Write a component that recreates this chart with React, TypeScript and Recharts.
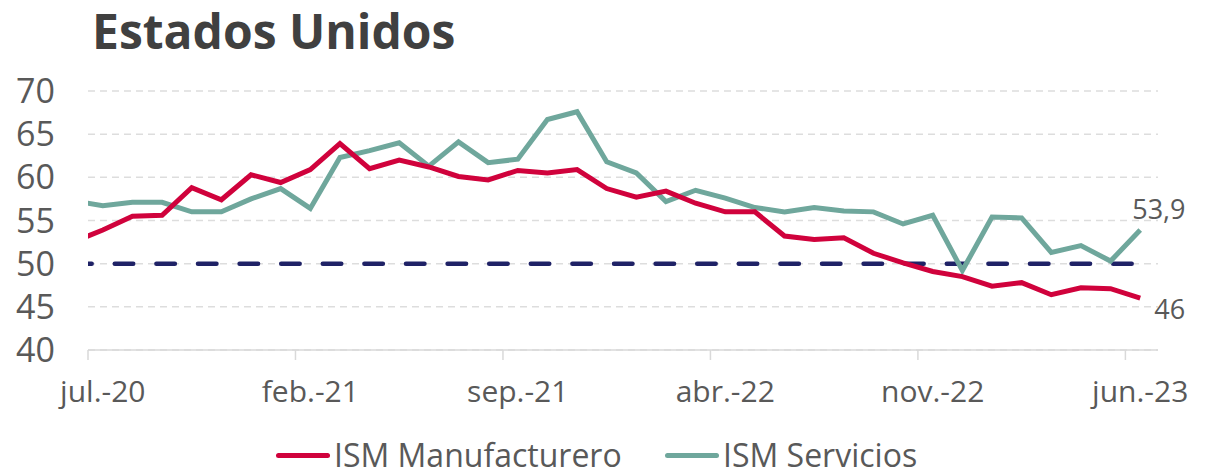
import { CartesianGrid, LabelList, Line, LineChart, XAxis, YAxis } from 'recharts';

// jun.-20 a jun.-23 (el primer punto queda recortado por el eje)
const ismManufacturero = [
  52.5, 53.9, 55.5, 55.6, 58.8, 57.4, 60.3,
  59.4, 60.9, 63.9, 61.0, 62.0, 61.2, 60.1, 59.7, 60.8, 60.5, 60.9, 58.7,
  57.7, 58.4, 57.0, 56.0, 56.0, 53.2, 52.8, 53.0, 51.2, 50.1, 49.1, 48.5,
  47.4, 47.8, 46.4, 47.2, 47.1, 46.0,
];
const ismServicios = [
  57.3, 56.7, 57.1, 57.1, 56.0, 56.0, 57.5,
  58.7, 56.4, 62.3, 63.1, 64.0, 61.3, 64.1, 61.7, 62.1, 66.7, 67.6, 61.8,
  60.5, 57.2, 58.5, 57.6, 56.5, 56.0, 56.5, 56.1, 56.0, 54.6, 55.6, 49.2,
  55.4, 55.3, 51.3, 52.1, 50.3, 53.9,
];
const umbral = 50;

const ticksX = [0, 7, 14, 21, 28, 35];
const etiquetasX = ['jul.-20', 'feb.-21', 'sep.-21', 'abr.-22', 'nov.-22', 'jun.-23'];
const ticksY = [40, 45, 50, 55, 60, 65, 70];

// cada dato va a mitad de mes
const data = ismManufacturero.map((v, i) => ({
  mes: i - 0.5,
  manu: v,
  serv: ismServicios[i],
  umbral,
}));

const ROJO = '#D0023C';
const VERDE = '#6FA79C';
const AZUL = '#1F2266';
const GRIS = '#595959';
const FUENTE = '"Open Sans", sans-serif';

function TickX(props: any) {
  const { x, y, payload } = props;
  const i = ticksX.indexOf(payload.value);
  return (
    <text x={x + 14.8} y={y + 40} textAnchor="middle" fill={GRIS} fontSize={30} fontFamily={FUENTE}>
      {etiquetasX[i]}
    </text>
  );
}

const etiquetaFinal = (dx: number, dy: number) => (props: any) => {
  const { x, y, value, index } = props;
  if (index !== data.length - 1) return null;
  return (
    <text x={x + dx} y={y + dy} fill={GRIS} fontSize={27} fontFamily={FUENTE}>
      {String(value).replace('.', ',')}
    </text>
  );
};

function Leyenda() {
  const item = (color: string, texto: string, ancho: number) => (
    <div style={{ display: 'flex', alignItems: 'center', width: ancho }}>
      <div style={{ width: 54, height: 5, borderRadius: 3, background: color, marginRight: 4 }} />
      <span>{texto}</span>
    </div>
  );
  return (
    <div
      style={{
        position: 'absolute',
        left: 276,
        top: 439,
        display: 'flex',
        fontFamily: FUENTE,
        fontSize: 32,
        lineHeight: '32px',
        color: GRIS,
        whiteSpace: 'nowrap',
      }}
    >
      {item(ROJO, 'ISM Manufacturero', 389)}
      {item(VERDE, 'ISM Servicios', 260)}
    </div>
  );
}

export default function App() {
  return (
    <div style={{ position: 'absolute', left: 0, top: 0, width: 1221, height: 471, background: '#fff' }}>
      <div
        style={{
          position: 'absolute',
          left: 92,
          top: 7,
          fontFamily: FUENTE,
          fontWeight: 700,
          fontSize: 48,
          lineHeight: '48px',
          color: '#404040',
        }}
      >
        Estados Unidos
      </div>
      <LineChart width={1221} height={471} data={data} margin={{ top: 91, right: 63, left: 0, bottom: 0 }}>
        <CartesianGrid vertical={false} stroke="#DDDDDD" strokeWidth={1.5} strokeDasharray="7 5" />
        <XAxis
          type="number"
          dataKey="mes"
          domain={[0, 36.1]}
          ticks={ticksX}
          allowDataOverflow
          height={121}
          stroke="#D9D9D9"
          strokeWidth={1.5}
          tickSize={10}
          tick={<TickX />}
        />
        <YAxis
          domain={[40, 70]}
          ticks={ticksY}
          width={88}
          axisLine={false}
          tickLine={false}
          tickSize={0}
          tickMargin={33}
          tick={{ fill: GRIS, fontSize: 34, fontFamily: FUENTE }}
        />
        <Line
          dataKey="umbral"
          stroke={AZUL}
          strokeWidth={4.5}
          strokeDasharray="18.5 23.1"
          strokeLinecap="round"
          dot={false}
          isAnimationActive={false}
        />
        <Line dataKey="serv" stroke={VERDE} strokeWidth={5} dot={false} isAnimationActive={false}>
          <LabelList dataKey="serv" content={etiquetaFinal(-8, -11)} />
        </Line>
        <Line dataKey="manu" stroke={ROJO} strokeWidth={5} dot={false} isAnimationActive={false}>
          <LabelList dataKey="manu" content={etiquetaFinal(14, 21)} />
        </Line>
      </LineChart>
      <Leyenda />
    </div>
  );
}
